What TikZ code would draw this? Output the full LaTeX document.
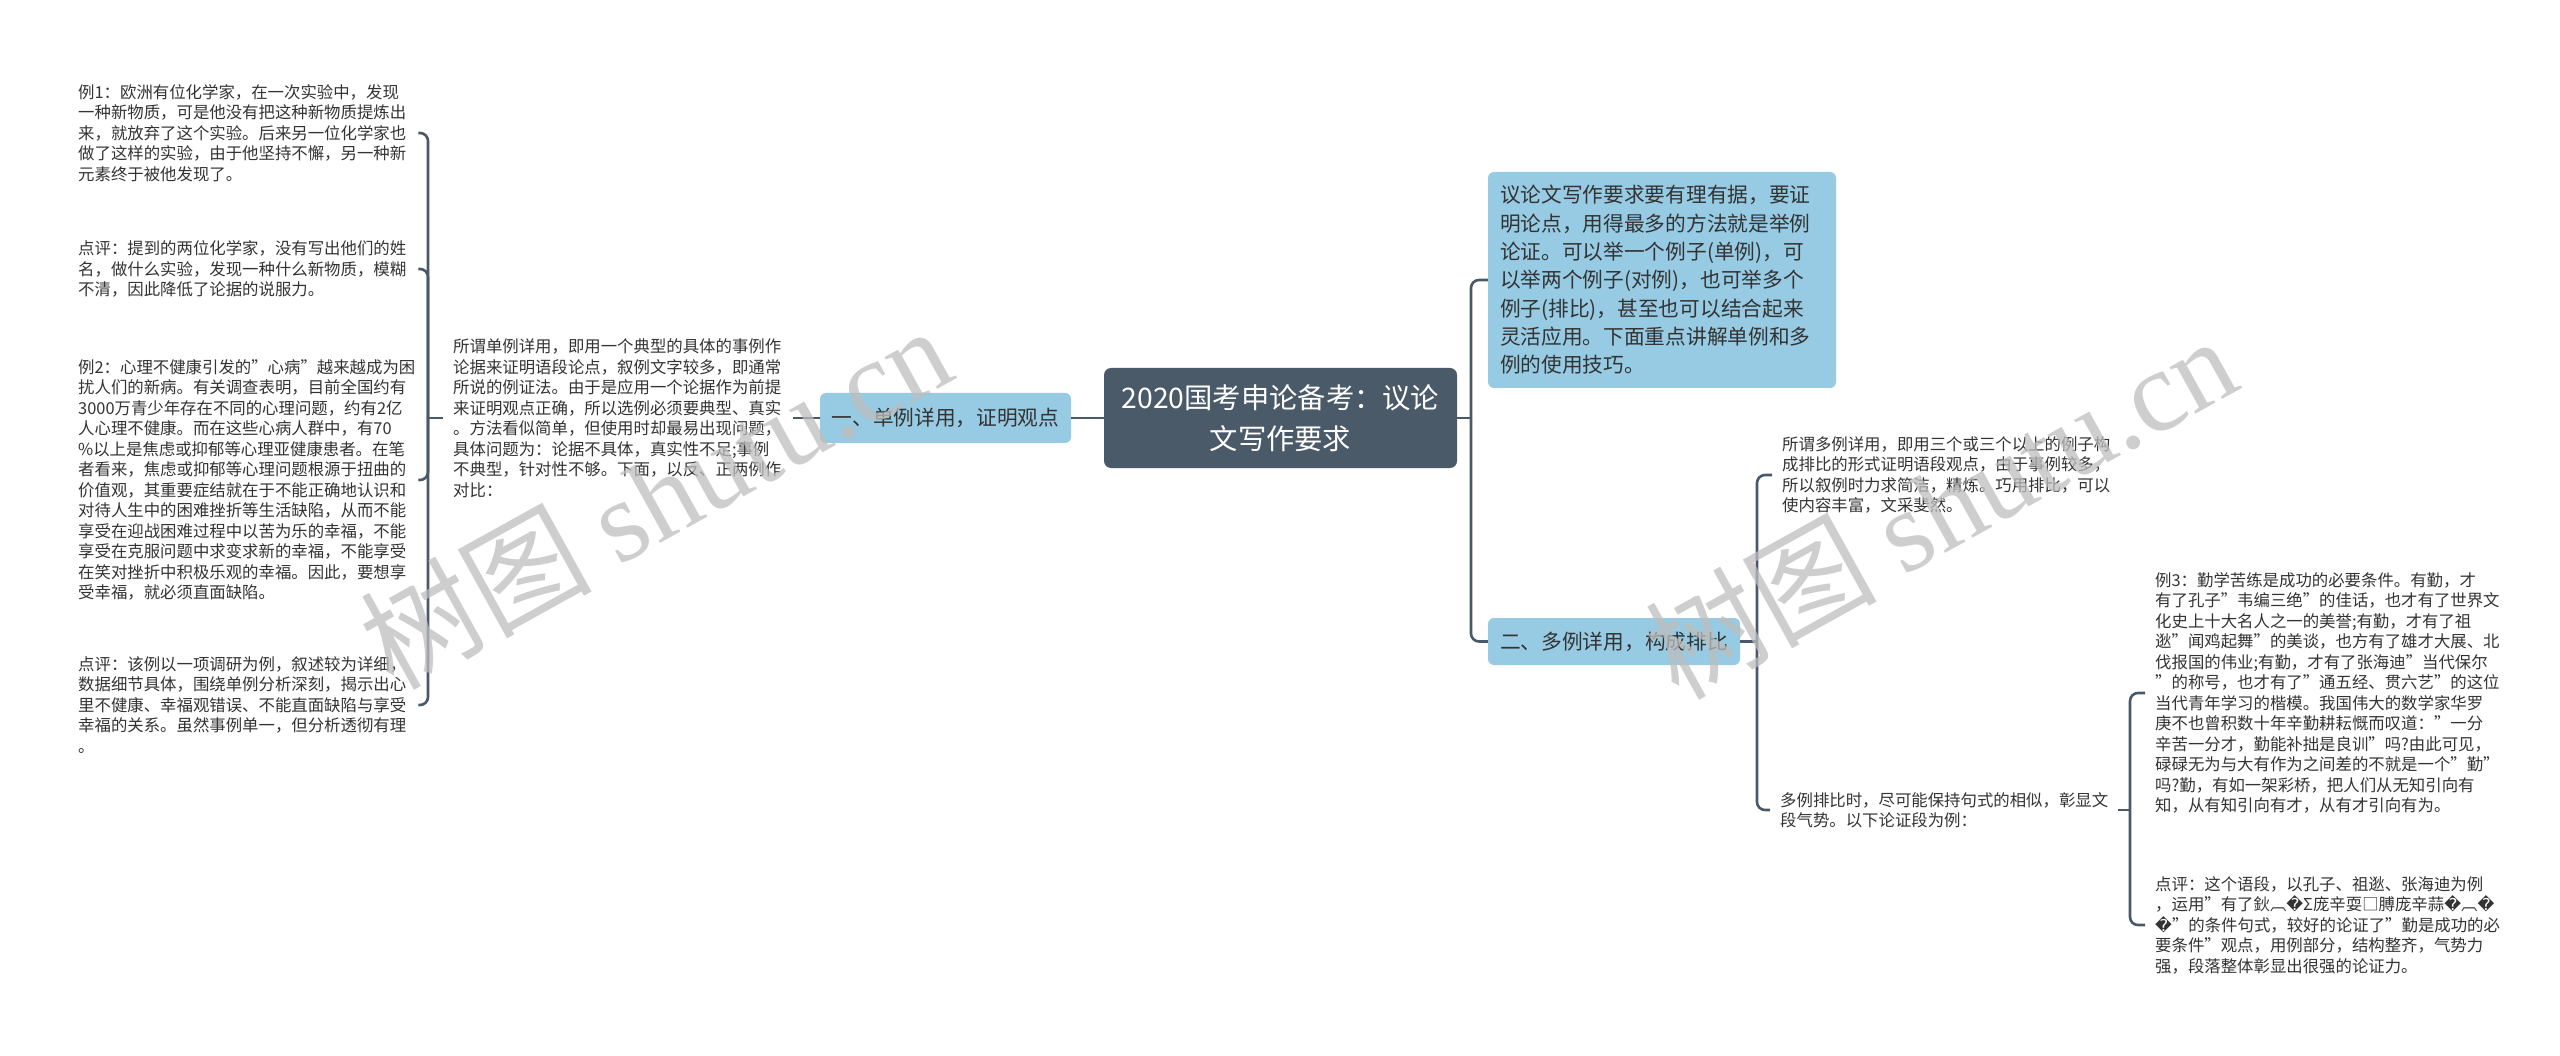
\documentclass[tikz,border=0pt]{standalone}
\usepackage{fontspec}
\setmainfont{Noto Sans CJK SC}
\newfontfamily\wmlatin{Liberation Serif}
\newfontfamily\repfont{DejaVu Sans}
\newcommand{\rch}{{\repfont\char"FFFD}}
\definecolor{linec}{HTML}{4A5968}
\definecolor{darkbox}{HTML}{4B5A69}
\definecolor{lightbox}{HTML}{96CBE3}
\definecolor{txt}{HTML}{333333}
\definecolor{wmc}{HTML}{BEBEBE}
\tikzset{
  leaf/.style={anchor=west, align=left, inner xsep=10pt, inner ysep=2pt, text=txt,
    font=\fontsize{16.4}{20.5}\selectfont},
  conn/.style={draw=linec, line width=2.6pt},
  hook/.style={conn, rounded corners=8pt},
  lbox/.style={fill=lightbox, rounded corners=6pt, text=txt, inner sep=0pt,
    font=\fontsize{20.7}{28.3}\selectfont},
  wmark/.style={rotate=29, text=wmc, text opacity=0.75, inner sep=0pt}
}
\begin{document}
\begin{tikzpicture}[x=1pt,y=-1pt]
\useasboundingbox (0,0) rectangle (2560,1056);
\fill[white] (0,0) rectangle (2560,1056);

% centre
\node[fill=darkbox, rounded corners=7pt, minimum width=353pt, minimum height=100pt,
  text=white, align=center, inner sep=0pt, font=\fontsize{28.3}{41}\selectfont]
  (C) at (1280.5,418) {2020国考申论备考：议论\\文写作要求};

% left branch
\node[lbox, minimum width=251pt, minimum height=50pt] (B1) at (945.5,418) {一、单例详用，证明观点};
\node[leaf, text width=330pt] (Lmid) at (443,418) {所谓单例详用，即用一个典型的具体的事例作\\论据来证明语段论点，叙例文字较多，即通常\\所说的例证法。由于是应用一个论据作为前提\\来证明观点正确，所以选例必须要典型、真实\\。方法看似简单，但使用时却最易出现问题，\\具体问题为：论据不具体，真实性不足;事例\\不典型，针对性不够。下面，以反、正两例作\\对比：};

\node[leaf, text width=330pt] (L1) at (68,133) {例1：欧洲有位化学家，在一次实验中，发现\\一种新物质，可是他没有把这种新物质提炼出\\来，就放弃了这个实验。后来另一位化学家也\\做了这样的实验，由于他坚持不懈，另一种新\\元素终于被他发现了。};
\node[leaf, text width=330pt] (L2) at (68,269) {点评：提到的两位化学家，没有写出他们的姓\\名，做什么实验，发现一种什么新物质，模糊\\不清，因此降低了论据的说服力。};
\node[leaf, text width=330pt] (L3) at (68,480) {例2：心理不健康引发的"心病"越来越成为困\\扰人们的新病。有关调查表明，目前全国约有\\3000万青少年存在不同的心理问题，约有2亿\\人心理不健康。而在这些心病人群中，有70\\\%以上是焦虑或抑郁等心理亚健康患者。在笔\\者看来，焦虑或抑郁等心理问题根源于扭曲的\\价值观，其重要症结就在于不能正确地认识和\\对待人生中的困难挫折等生活缺陷，从而不能\\享受在迎战困难过程中以苦为乐的幸福，不能\\享受在克服问题中求变求新的幸福，不能享受\\在笑对挫折中积极乐观的幸福。因此，要想享\\受幸福，就必须直面缺陷。};
\node[leaf, text width=330pt] (L4) at (68,705) {点评：该例以一项调研为例，叙述较为详细，\\数据细节具体，围绕单例分析深刻，揭示出心\\里不健康、幸福观错误、不能直面缺陷与享受\\幸福的关系。虽然事例单一，但分析透彻有理\\。};

% right branch
\node[lbox, minimum width=348pt, minimum height=216pt, text width=324pt, align=left]
  (R1) at (1662,280) {议论文写作要求要有理有据，要证\\明论点，用得最多的方法就是举例\\论证。可以举一个例子(单例)，可\\以举两个例子(对例)，也可举多个\\例子(排比)，甚至也可以结合起来\\灵活应用。下面重点讲解单例和多\\例的使用技巧。};
\node[lbox, minimum width=252pt, minimum height=47pt] (R2) at (1614,641.5) {二、多例详用，构成排比};

\node[leaf, text width=340pt] (R2a) at (1772,475) {所谓多例详用，即用三个或三个以上的例子构\\成排比的形式证明语段观点，由于事例较多，\\所以叙例时力求简洁，精炼。巧用排比，可以\\使内容丰富，文采斐然。};
\node[leaf, text width=328pt] (R2b) at (1770,810) {多例排比时，尽可能保持句式的相似，彰显文\\段气势。以下论证段为例：};

\node[leaf, text width=335pt] (R3a) at (2145,693) {例3：勤学苦练是成功的必要条件。有勤，才\\有了孔子"韦编三绝"的佳话，也才有了世界文\\化史上十大名人之一的美誉;有勤，才有了祖\\逖"闻鸡起舞"的美谈，也方有了雄才大展、北\\伐报国的伟业;有勤，才有了张海迪"当代保尔\\"的称号，也才有了"通五经、贯六艺"的这位\\当代青年学习的楷模。我国伟大的数学家华罗\\庚不也曾积数十年辛勤耕耘慨而叹道："一分\\辛苦一分才，勤能补拙是良训"吗?由此可见，\\碌碌无为与大有作为之间差的不就是一个"勤"\\吗?勤，有如一架彩桥，把人们从无知引向有\\知，从有知引向有才，从有才引向有为。};
\node[leaf, text width=335pt] (R3b) at (2145,925) {点评：这个语段，以孔子、祖逖、张海迪为例\\，运用"有了鈥︹\rch Σ庞辛耍□膊庞辛蒜\rch ︹\rch\\\rch"的条件句式，较好的论证了"勤是成功的必\\要条件"观点，用例部分，结构整齐，气势力\\强，段落整体彰显出很强的论证力。};

% connectors
\coordinate (lb) at (428,418);
\draw[conn] (C.west) -- (B1.east);
\draw[conn] (B1.west) -- (Lmid.east);
\draw[conn] (Lmid.west) -- (lb);
\draw[hook] (lb) |- (L1.east);
\draw[hook] (lb) |- (L2.east);
\draw[hook] (lb) |- (L3.east);
\draw[hook] (lb) |- (L4.east);

\coordinate (rb) at (1471,418);
\draw[conn] (C.east) -- (rb);
\draw[hook] (rb) |- (R1.west);
\draw[hook] (rb) |- (R2.west);

\coordinate (rb2) at (1757,641.5);
\draw[conn] (R2.east) -- (rb2);
\draw[hook] (rb2) |- (R2a.west);
\draw[hook] (rb2) |- (R2b.west);

\coordinate (rb3) at (2130,810);
\draw[conn] (R2b.east) -- (rb3);
\draw[hook] (rb3) |- (R3a.west);
\draw[hook] (rb3) |- (R3b.west);

% watermarks
\node[wmark] (wm1) at (655,496) {\fontsize{116}{116}\selectfont 树图 {\wmlatin shutu.cn}};
\node[wmark] (wm2) at (1940,506) {\fontsize{116}{116}\selectfont 树图 {\wmlatin shutu.cn}};
\end{tikzpicture}
\end{document}
